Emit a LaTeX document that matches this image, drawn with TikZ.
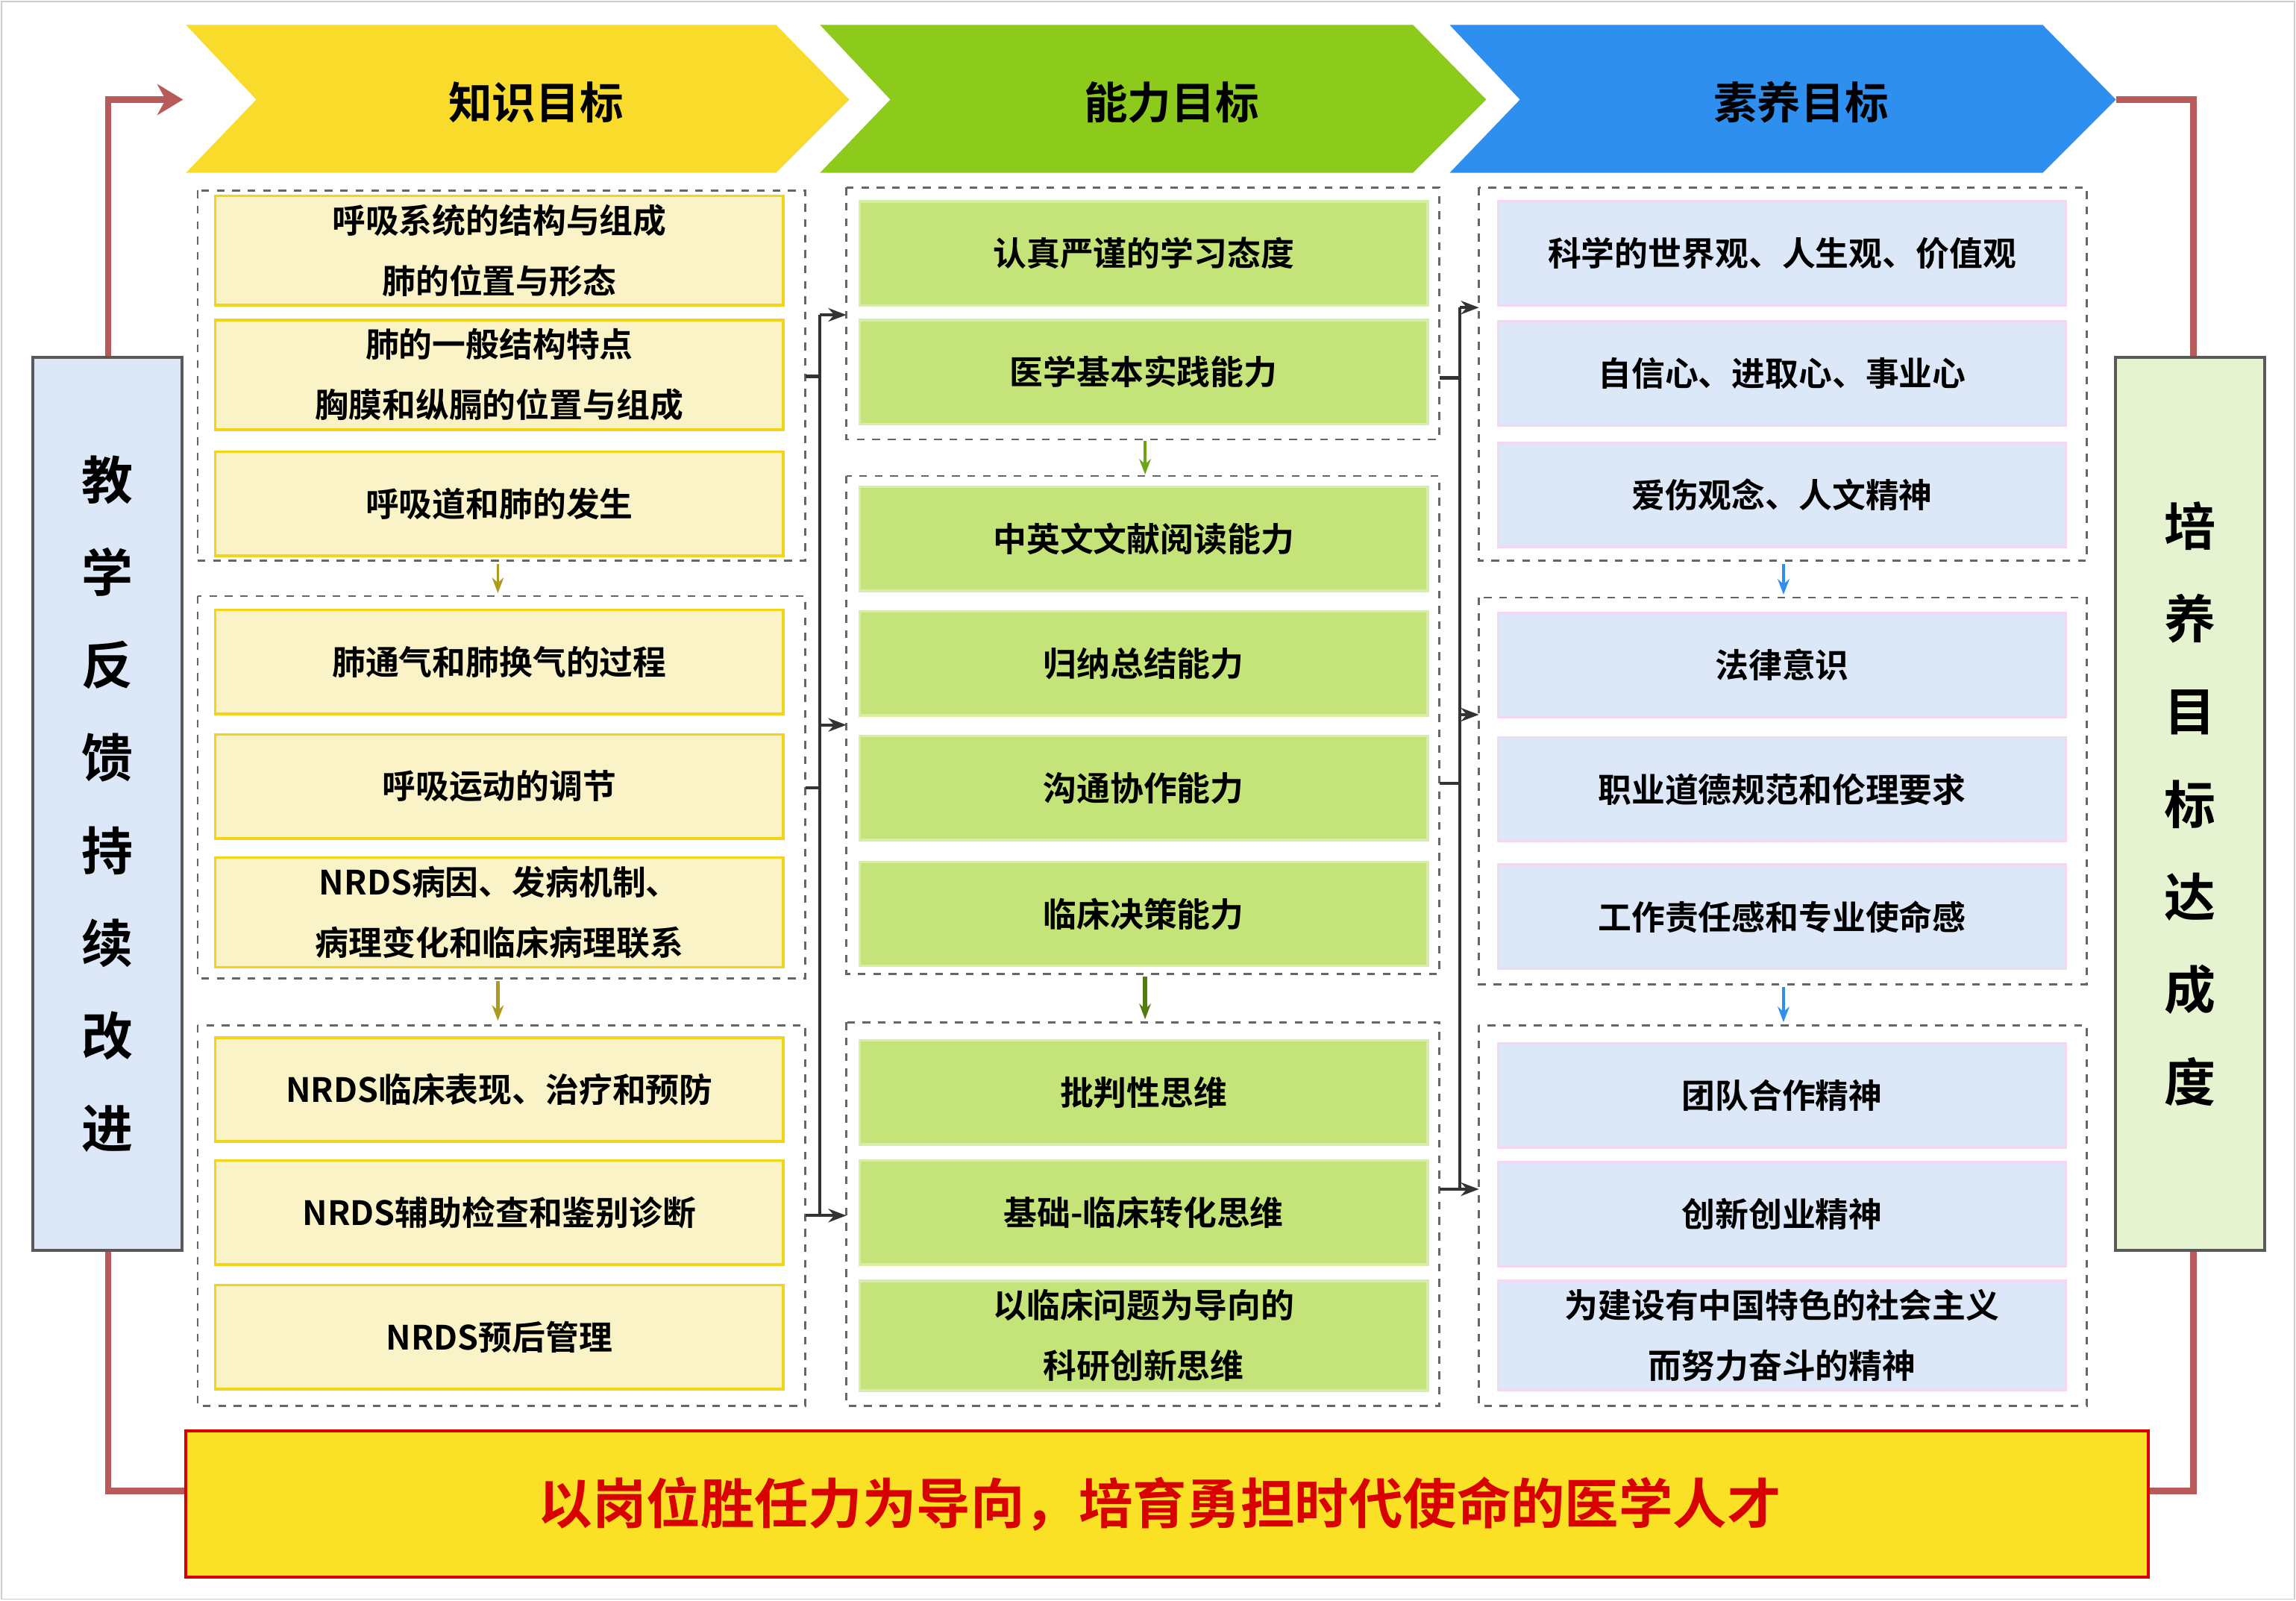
\documentclass[tikz,border=0pt]{standalone}
\usepackage{fontspec}
\setmainfont{Noto Sans CJK SC}[BoldFont={* Bold}]
\usetikzlibrary{arrows.meta}
\definecolor{kyel}{HTML}{F9DC2B}
\definecolor{kyelbox}{HTML}{FAF3C8}
\definecolor{kyelline}{HTML}{F3D515}
\definecolor{ngreen}{HTML}{8CCB1B}
\definecolor{ngreenbox}{HTML}{C4E378}
\definecolor{ngreenline}{HTML}{D6EEA8}
\definecolor{sblue}{HTML}{2E8FEE}
\definecolor{sbluebox}{HTML}{DCE8F8}
\definecolor{sblueline}{HTML}{F2D8F2}
\definecolor{reachbox}{HTML}{E5F3D0}
\definecolor{loopred}{HTML}{B85A5A}
\tikzset{
  kbox/.style={draw=kyelline, fill=kyelbox, line width=1pt, minimum width=7.76cm, minimum height=1.42cm, align=center, font=\bfseries\fontsize{13}{23.5}\selectfont},
  nbox/.style={kbox, draw=ngreenline, fill=ngreenbox},
  sbox/.style={kbox, draw=sblueline, fill=sbluebox},
  group/.style={draw=gray!80!black, dashed, line width=0.8pt},
  link/.style={draw=gray!40!black, line width=1.2pt, -{Stealth[length=7pt]}},
  side/.style={draw=gray!70!black, line width=1.2pt, minimum width=2.04cm, minimum height=12.2cm, align=center, font=\bfseries\fontsize{20}{36}\selectfont},
  loop/.style={draw=loopred, line width=2.4pt},
}
\begin{document}
\begin{tikzpicture}[x=0.02cm, y=-0.02cm]
\useasboundingbox (0,0) rectangle (1568,1093);
\draw[gray!40] (1,1) rectangle (1567,1092);
% feedback loop
\draw[loop, -{Stealth[length=10pt,width=12pt]}] (127,1018) -- (74,1018) -- (74,68) -- (125,68);
\draw[loop] (1467,1018) -- (1498,1018) -- (1498,68) -- (1445,68);
% chevrons
\fill[kyel] (127,17) -- (530,17) -- (580,68) -- (530,118) -- (127,118) -- (175,68) -- cycle;
\fill[ngreen] (560,17) -- (965,17) -- (1015,68) -- (965,118) -- (560,118) -- (608,68) -- cycle;
\fill[sblue] (990,17) -- (1395,17) -- (1445,68) -- (1395,118) -- (990,118) -- (1038,68) -- cycle;
\node[font=\bfseries\fontsize{17}{20}\selectfont] (kt) at (366,70) {知识目标};
\node[font=\bfseries\fontsize{17}{20}\selectfont] (nt) at (800,70) {能力目标};
\node[font=\bfseries\fontsize{17}{20}\selectfont] (st) at (1230,70) {素养目标};
% side boxes
\node[side, fill=sbluebox] (teach) at (73.5,549) {教\\学\\反\\馈\\持\\续\\改\\进};
\node[side, fill=reachbox] (reach) at (1495.5,549) {培\\养\\目\\标\\达\\成\\度};
% groups
\draw[group] (135,130) rectangle (550,383);
\draw[group] (135,407) rectangle (550,668);
\draw[group] (135,700) rectangle (550,960);
\draw[group] (578,128) rectangle (983,300);
\draw[group] (578,325) rectangle (983,665);
\draw[group] (578,698) rectangle (983,960);
\draw[group] (1010,128) rectangle (1425,383);
\draw[group] (1010,408) rectangle (1425,672);
\draw[group] (1010,700) rectangle (1425,960);
% knowledge
\node[kbox] (k1) at (341,171) {呼吸系统的结构与组成\\肺的位置与形态};
\node[kbox] (k2) at (341,256) {肺的一般结构特点\\胸膜和纵膈的位置与组成};
\node[kbox] (k3) at (341,344) {呼吸道和肺的发生};
\node[kbox] (k4) at (341,452) {肺通气和肺换气的过程};
\node[kbox] (k5) at (341,537) {呼吸运动的调节};
\node[kbox] (k6) at (341,623) {NRDS病因、发病机制、\\病理变化和临床病理联系};
\node[kbox] (k7) at (341,744) {NRDS临床表现、治疗和预防};
\node[kbox] (k8) at (341,828) {NRDS辅助检查和鉴别诊断};
\node[kbox] (k9) at (341,913) {NRDS预后管理};
% ability
\node[nbox] (n1) at (781,173) {认真严谨的学习态度};
\node[nbox] (n2) at (781,254) {医学基本实践能力};
\node[nbox] (n3) at (781,368) {中英文文献阅读能力};
\node[nbox] (n4) at (781,453) {归纳总结能力};
\node[nbox] (n5) at (781,538) {沟通协作能力};
\node[nbox] (n6) at (781,624) {临床决策能力};
\node[nbox] (n7) at (781,746) {批判性思维};
\node[nbox] (n8) at (781,828) {基础-临床转化思维};
\node[nbox] (n9) at (781,912) {以临床问题为导向的\\科研创新思维};
% literacy
\node[sbox] (s1) at (1217,173) {科学的世界观、人生观、价值观};
\node[sbox] (s2) at (1217,255) {自信心、进取心、事业心};
\node[sbox] (s3) at (1217,338) {爱伤观念、人文精神};
\node[sbox] (s4) at (1217,454) {法律意识};
\node[sbox] (s5) at (1217,539) {职业道德规范和伦理要求};
\node[sbox] (s6) at (1217,626) {工作责任感和专业使命感};
\node[sbox] (s7) at (1217,748) {团队合作精神};
\node[sbox] (s8) at (1217,829) {创新创业精神};
\node[sbox] (s9) at (1217,912) {为建设有中国特色的社会主义\\而努力奋斗的精神};
% group links
\coordinate (ka) at (550,257);
\coordinate (kb) at (550,538);
\coordinate (kc) at (550,830);
\coordinate (na) at (983,258);
\coordinate (nb) at (983,535);
\coordinate (nc) at (983,812);
\draw[draw=gray!40!black, line width=1.2pt] (ka) -- (560,257) (kb) -- (560,538) (560,215) -- (560,830);
\draw[link] (560,215) -- (578,215);
\draw[link] (560,495) -- (578,495);
\draw[link] (kc) -- (578,830);
\draw[draw=gray!40!black, line width=1.2pt] (na) -- (997,258) (nb) -- (997,535) (997,210) -- (997,812);
\draw[link] (997,210) -- (1010,210);
\draw[link] (997,488) -- (1010,488);
\draw[link] (nc) -- (1010,812);
% steps between groups
\draw[-{Stealth[length=6pt]}, draw=kyel!70!black, line width=1pt] (340,385) -- (340,405);
\draw[-{Stealth[length=6pt]}, draw=kyel!70!black, line width=1.6pt] (340,670) -- (340,697);
\draw[-{Stealth[length=6pt]}, draw=ngreen!80!black, line width=1pt] (782,301) -- (782,324);
\draw[-{Stealth[length=6pt]}, draw=ngreen!60!black, line width=1.6pt] (782,667) -- (782,696);
\draw[-{Stealth[length=6pt]}, draw=sblue, line width=1pt] (1218,385) -- (1218,406);
\draw[-{Stealth[length=6pt]}, draw=sblue, line width=1.2pt] (1218,674) -- (1218,698);
% banner
\draw[draw=red!85!black, fill=kyel!85!yellow, line width=1.2pt] (127,977) rectangle (1467,1077);
\node[text=red!85!black, font=\bfseries\fontsize{21}{24}\selectfont] (goal) at (792,1027) {以岗位胜任力为导向，培育勇担时代使命的医学人才};
\end{tikzpicture}
\end{document}
